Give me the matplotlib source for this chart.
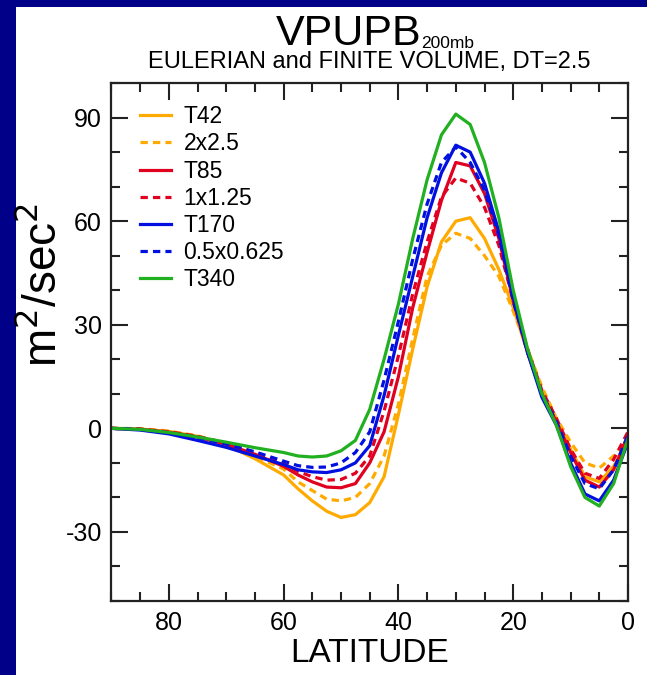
import matplotlib
matplotlib.use('Agg')
import matplotlib.pyplot as plt
from matplotlib.patches import Rectangle

plt.rcParams['font.family'] = ['Liberation Sans', 'DejaVu Sans']
plt.rcParams['axes.unicode_minus'] = False

# latitude points (deg N)
lat = [90, 85, 80, 75, 70, 65, 60, 57.5, 55, 52.5, 50, 47.5, 45, 42.5, 40,
       37.5, 35, 32.5, 30, 27.5, 25, 22.5, 20, 17.5, 15, 12.5, 10, 7.5, 5, 2.5, 0]

t42 = [0, -0.2, -0.9, -2.3, -4.8, -8.8, -13.5, -17.5, -21, -24, -25.8, -25, -21.5, -14, 4,
       23, 41, 54, 60, 61, 55, 46, 35, 22, 10, 2, -6, -14, -15.5, -11, -4]
fv2x25 = [0, -0.1, -0.8, -2.2, -4.5, -8, -11.8, -15.5, -18, -20.5, -21, -20, -16, -8, 7,
          26, 44, 53, 56.5, 55, 50, 44, 34, 23, 12, 3, -4, -10, -11.5, -8, -3]
t85 = [0, -0.3, -1.1, -2.5, -4.6, -7.5, -11, -13.5, -15.5, -17, -17.2, -16, -10, -1, 15,
       35, 51, 66, 77, 76, 68, 55, 37, 22, 10, 2, -7, -15, -17, -12, -2]
fv1x125 = [0, -0.2, -1, -2.3, -4.3, -7, -10.2, -12.5, -14, -15, -14.8, -13, -8, 5, 21,
           39, 54, 67, 72.5, 71, 64, 53, 37, 23, 11, 3, -6, -13, -14.5, -9, -1]
t170 = [0, -0.5, -1.6, -3.5, -5.5, -8, -10.5, -12, -12.6, -12.8, -12, -10, -5, 9.5, 27,
        44, 61, 74, 82, 80, 71, 57, 38, 22, 9, 1, -10, -19, -21, -15, -4]
fv05 = [0, -0.3, -1.3, -2.7, -4.5, -6.8, -9.5, -10.8, -11.3, -11.2, -10, -7, -1, 14, 31,
        49, 65, 77, 81.5, 77, 69, 56, 37, 22, 10, 2, -8, -16, -17.5, -12, -2]
t340 = [0, -0.3, -1.2, -2.5, -4, -5.6, -7, -8, -8.3, -8, -6.5, -3.5, 5.5, 20, 36,
        55, 72, 85, 91, 88, 77, 61, 40, 23, 10, 1, -11, -20, -22.5, -16, -3]

labels = ['T42', '2x2.5', 'T85', '1x1.25', 'T170', '0.5x0.625', 'T340']
series = [t42, fv2x25, t85, fv1x125, t170, fv05, t340]
colors = ['#ffaa00', '#ffaa00', '#e00020', '#e00020', '#0010e0', '#0010e0', '#20b020']
styles = ['-', '--', '-', '--', '-', '--', '-']

fig = plt.figure(figsize=(6.47, 6.75), dpi=100)
fig.patch.set_facecolor('#000088')
fig.add_artist(Rectangle((16 / 647, 0), 1 - 16 / 647, 1 - 7 / 675,
                         transform=fig.transFigure, facecolor='white',
                         edgecolor='none', zorder=0))

ax = fig.add_axes([0.1723, 0.1096, 0.7983, 0.7674])
for y, lab, c, ls in zip(series, labels, colors, styles):
    if ls == '--':
        ax.plot(lat, y, color=c, lw=2.3, dashes=(2.3, 1.6), label=lab)
    else:
        ax.plot(lat, y, color=c, lw=2.3, label=lab)

ax.set_xlim(90, 0)
ax.set_ylim(-50, 100)
ax.set_xticks([80, 60, 40, 20, 0])
ax.set_xticks(range(0, 91, 5), minor=True)
ax.set_yticks([-30, 0, 30, 60, 90])
ax.set_yticks(range(-50, 101, 10), minor=True)
ax.tick_params(which='both', direction='in', top=True, right=True,
               width=1.5, color='#222222', labelsize=18, pad=7)
ax.tick_params(which='major', length=12)
ax.tick_params(which='minor', length=6.5)
for s in ax.spines.values():
    s.set_linewidth(1.6)
    s.set_color('#222222')

ax.set_xlabel('LATITUDE', fontsize=24, labelpad=2)
ax.set_ylabel(r'm$^2$/sec$^2$', fontsize=33)
ax.yaxis.set_label_coords(-0.088, 0.61)

# title: big name with a small subscript, then the subtitle
fig.text(421 / 647, 1 - 34 / 675, 'VPUPB', ha='right', va='center', fontsize=31)
fig.text(421 / 647, 1 - 44 / 675, '200mb', ha='left', va='center', fontsize=12.5)
fig.text(0.5 * (0.1723 + 0.9706), 1 - 62 / 675,
         'EULERIAN and FINITE VOLUME, DT=2.5', ha='center', va='center', fontsize=17)

ax.legend(loc='upper left', bbox_to_anchor=(0.055, 0.957), frameon=False,
          fontsize=16.5, handlelength=1.35, handletextpad=0.55, labelspacing=0.18,
          borderaxespad=0, borderpad=0)

fig.savefig('out.png', dpi=100, facecolor=fig.get_facecolor())
